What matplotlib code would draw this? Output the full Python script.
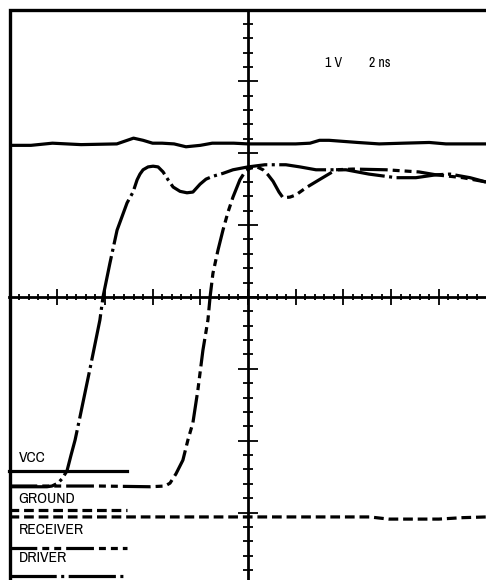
import numpy as np
import matplotlib
matplotlib.use("Agg")
import matplotlib.pyplot as plt
from matplotlib import font_manager as fm

plt.rcParams['lines.scale_dashes'] = False

# pick an upright narrow sans face if one is installed, else a regular one at a smaller size
narrow = None
for f in fm.fontManager.ttflist:
    nm = f.name
    if ('Mono' in nm) or ('Serif' in nm) or f.style != 'normal':
        continue
    if f.weight not in ('normal', 400, 'regular', 'book'):
        continue
    if 'Narrow' in nm or 'Narrow' in f.fname:
        narrow = f
        break
    st = str(f.stretch)
    if narrow is None and ('Condensed' in f.fname or 'Condensed' in nm
                           or st in ('condensed', 'semi-condensed')):
        narrow = f
if narrow is not None:
    FONT_PROPS = dict(fontproperties=fm.FontProperties(fname=narrow.fname))
    KEY_SIZE, SCALE_SIZE = 11.2, 10.0
else:
    FONT_PROPS = dict(family=['Liberation Sans', 'DejaVu Sans'])
    KEY_SIZE, SCALE_SIZE = 9.2, 8.0

# ---- data (time in ns, screen voltage in V) ----
vcc_t = [-10.0, -9.1, -8.2, -7.0, -5.5, -4.8, -4.4, -4.0, -3.6, -3.1, -2.6, -2.0,
         -1.5, -0.6, 0.0, 2.0, 2.6, 3.0, 3.4, 4.6, 5.5, 6.5, 7.6, 8.3, 10.0]
vcc_v = [2.11, 2.11, 2.14, 2.12, 2.13, 2.21, 2.18, 2.14, 2.14, 2.13, 2.09, 2.11,
         2.14, 2.14, 2.13, 2.13, 2.14, 2.18, 2.18, 2.15, 2.13, 2.14, 2.15, 2.13, 2.13]

ground_t = [-10.0, -3.0, 3.0, 5.1, 5.9, 8.0, 9.0, 10.0]
ground_v = [-3.06, -3.06, -3.06, -3.06, -3.09, -3.09, -3.07, -3.06]

driver_t = [-10.0, -8.43, -8.22, -7.97, -7.80, -7.59, -7.42, -7.25, -7.04, -6.62,
            -6.21, -6.08, -5.79, -5.49, -5.07, -4.82, -4.65, -4.53, -4.40, -4.19,
            -3.98, -3.77, -3.56, -3.35, -3.14, -2.85, -2.56, -2.31, -2.01, -1.76,
            -1.47, -1.05, -0.63, 0.0, 0.71, 1.59, 2.18, 2.85, 3.69, 4.11, 5.07,
            6.21, 7.04, 7.88, 8.47, 9.31, 9.98]
driver_v = [-2.64, -2.64, -2.63, -2.59, -2.53, -2.42, -2.20, -1.99, -1.66, -0.99,
            -0.32, 0.0, 0.47, 0.93, 1.31, 1.46, 1.63, 1.71, 1.77, 1.81,
            1.82, 1.81, 1.74, 1.63, 1.53, 1.47, 1.45, 1.46, 1.57, 1.64,
            1.68, 1.72, 1.77, 1.81, 1.84, 1.84, 1.81, 1.77, 1.77, 1.77, 1.71,
            1.66, 1.66, 1.70, 1.71, 1.66, 1.60]

receiver_t = [-10.0, -6.21, -4.11, -3.48, -3.27, -3.02, -2.73, -2.52, -2.31, -2.10,
              -1.89, -1.68, -1.59, -1.47, -1.26, -1.05, -0.84, -0.63, -0.34, -0.13,
              0.08, 0.38, 0.63, 0.84, 1.05, 1.30, 1.47, 1.76, 2.01, 2.43, 2.98,
              3.69, 4.40, 5.79, 7.17, 7.88, 9.01, 9.98]
receiver_v = [-2.63, -2.63, -2.64, -2.63, -2.59, -2.46, -2.27, -1.99, -1.75, -1.29,
              -0.74, -0.32, 0.0, 0.33, 0.65, 0.93, 1.18, 1.39, 1.63, 1.74,
              1.79, 1.81, 1.77, 1.70, 1.61, 1.46, 1.38, 1.39, 1.42, 1.52, 1.63,
              1.77, 1.78, 1.77, 1.74, 1.70, 1.66, 1.60]

labels = ['VCC', 'GROUND', 'RECEIVER', 'DRIVER']
scale_text = ['1 V', '2 ns']

# ---- styles ----
LW = 2.3
styles = {
    'VCC': dict(linestyle='-'),
    'GROUND': dict(dashes=(7.0, 3.5)),
    'RECEIVER': dict(dashes=(20, 3.6, 5, 3.6, 5, 3.6)),
    'DRIVER': dict(dashes=(34, 3.2, 2.2, 3.2)),
}

fig = plt.figure(figsize=(4.86, 5.80), dpi=100)
ax = fig.add_axes([9.5 / 486, -4.5 / 580, 477 / 486, 575 / 580])
ax.set_xlim(-10, 10)
ax.set_ylim(-4, 4)

# crosshair axes with ticks
for s in ['top', 'right']:
    ax.spines[s].set_visible(False)
ax.spines['left'].set_position(('data', 0))
ax.spines['bottom'].set_position(('data', 0))
ax.spines['left'].set_linewidth(2.0)
ax.spines['bottom'].set_linewidth(2.0)
ax.set_xticks(np.arange(-8, 8.1, 2))
ax.set_xticks([v for v in np.arange(-9.6, 9.7, 0.4) if abs(v / 2 - round(v / 2)) > 1e-6], minor=True)
ax.set_yticks(np.arange(-3, 3.1, 1))
ax.set_yticks([v for v in np.arange(-3.8, 3.9, 0.2) if abs(v - round(v)) > 1e-6], minor=True)
ax.tick_params(which='both', direction='inout', width=1.3, labelbottom=False,
               labelleft=False, color='black')
ax.xaxis.set_tick_params(which='major', length=11.5)
ax.xaxis.set_tick_params(which='minor', length=5.0)
ax.yaxis.set_tick_params(which='major', length=14.4)
ax.yaxis.set_tick_params(which='minor', length=7.2)

# frame (left and top)
ax.plot([0, 0, 1], [0, 1, 1], transform=ax.transAxes, color='black', lw=2.4,
        clip_on=False, solid_joinstyle='miter')

# traces
ax.plot(vcc_t, vcc_v, color='black', lw=LW, **styles['VCC'])
ax.plot(ground_t, ground_v, color='black', lw=LW, dash_capstyle='butt', **styles['GROUND'])
ax.plot(receiver_t, receiver_v, color='black', lw=LW, dash_capstyle='butt', **styles['RECEIVER'])
ax.plot(driver_t, driver_v, color='black', lw=LW, dash_capstyle='butt', **styles['DRIVER'])

# key (label above its sample line)
label_y = [-2.24, -2.81, -3.24, -3.63]
sample_y = [-2.42, -2.96, -3.49, -3.88]
for name, ly, sy in zip(labels, label_y, sample_y):
    ax.text(-9.62, ly, name, fontsize=KEY_SIZE, va='center', ha='left', **FONT_PROPS)
    ax.plot([-10, -5.07], [sy, sy], color='black', lw=LW, dash_capstyle='butt',
            clip_on=False, **styles[name])

ax.text(3.23, 3.25, scale_text[0], fontsize=SCALE_SIZE, va='center', ha='left', **FONT_PROPS)
ax.text(5.07, 3.25, scale_text[1], fontsize=SCALE_SIZE, va='center', ha='left', **FONT_PROPS)

fig.savefig('out.png', dpi=100)
